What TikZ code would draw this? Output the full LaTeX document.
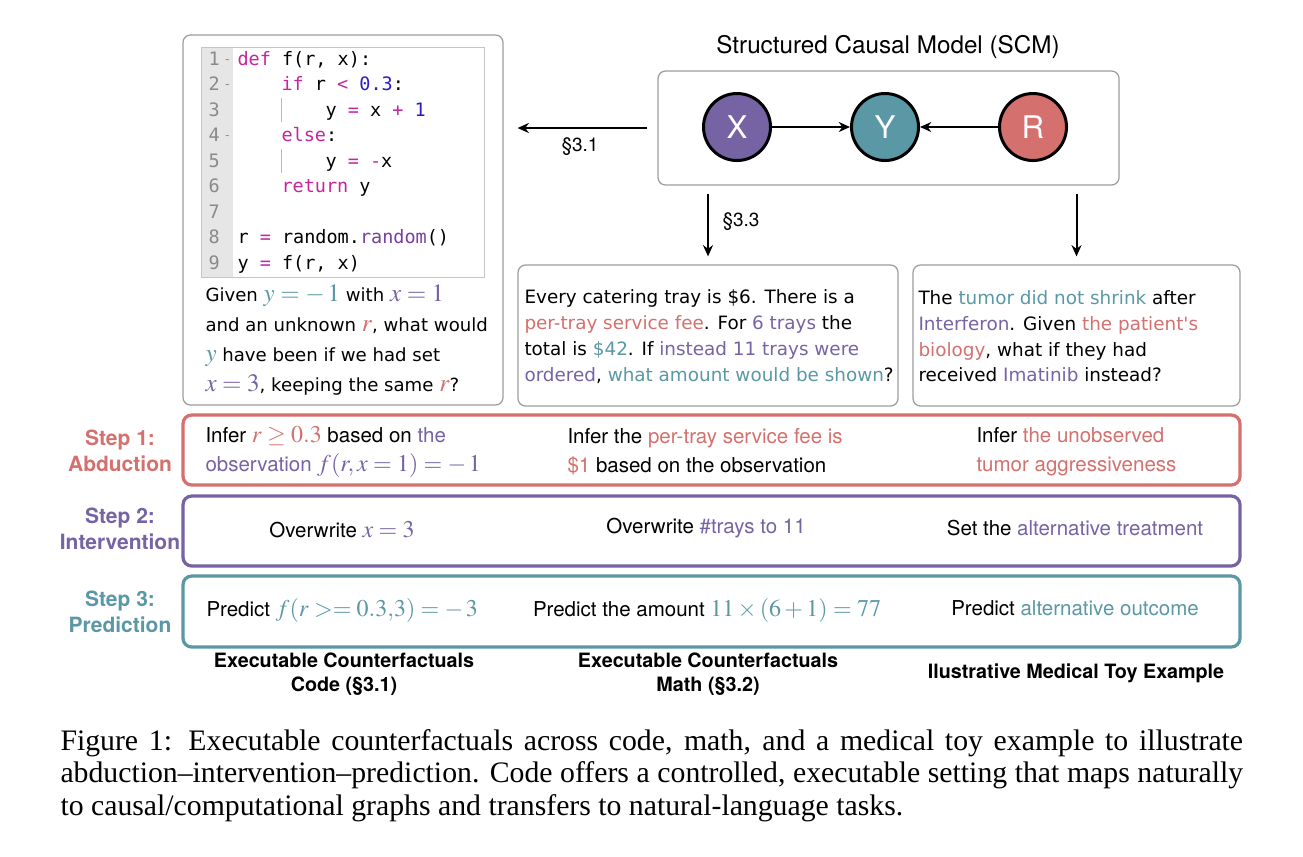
\documentclass[tikz,border=0pt]{standalone}
\usepackage{mathptmx}
\usepackage{fontspec}
\setmainfont{Liberation Serif}
\setsansfont{TeX Gyre Heros}
\setmonofont{DejaVu Sans Mono}
\newfontfamily\comicfont{DejaVu Sans}
\usepackage{xcolor}
\usepackage{tikz}
\usetikzlibrary{arrows.meta,fit}
\definecolor{redc}{HTML}{D4706D}
\definecolor{purc}{HTML}{7663A3}
\definecolor{tealc}{HTML}{5A98A5}
\definecolor{boxgray}{HTML}{9E9E9E}
\definecolor{gutter}{HTML}{E6E6E6}
\definecolor{lnum}{HTML}{8A8A8A}
\definecolor{kwc}{HTML}{C4269F}
\definecolor{numc}{HTML}{2B1BC9}
\definecolor{fnc}{HTML}{7A3FA2}
\newcommand{\ckw}[1]{\textcolor{kwc}{#1}}
\newcommand{\cnum}[1]{\textcolor{numc}{#1}}
\newcommand{\cfn}[1]{\textcolor{fnc}{#1}}
\newcommand{\txtred}[1]{\textcolor{redc}{#1}}
\newcommand{\txtpur}[1]{\textcolor{purc}{#1}}
\newcommand{\txtteal}[1]{\textcolor{tealc}{#1}}
\newcommand{\rowmath}[1]{{\fontsize{9.6}{11}\selectfont$#1$}}
\newcommand{\qmath}[1]{{\fontsize{10}{11}\selectfont$#1$}}
\tikzset{
  card/.style={draw=boxgray, line width=0.5pt, rounded corners=3pt, inner sep=0pt},
  stepbox/.style={line width=1.3pt, rounded corners=3.5pt, inner sep=0pt},
  var/.style={circle, draw=black, line width=1.2pt, minimum size=26.8pt, inner sep=0pt, text=white, font=\sffamily\fontsize{12.5}{12.5}\selectfont},
  arr/.style={-{Stealth[length=4.5pt,width=4pt]}, line width=0.8pt},
  codeln/.style={anchor=base west, inner sep=0pt, font=\ttfamily\fontsize{7.4}{8}\selectfont},
  lno/.style={codeln, text=lnum},
  comic/.style={anchor=west, align=left, inner sep=0pt, font=\comicfont\fontsize{7.35}{10.3}\selectfont},
  rowtxt/.style={inner sep=0pt, align=left, font=\sffamily\fontsize{8.2}{11.6}\selectfont},
  steplab/.style={align=center, inner sep=0pt, font=\sffamily\bfseries\fontsize{8.4}{10.4}\selectfont},
  colname/.style={align=center, inner sep=0pt, font=\sffamily\bfseries\fontsize{7.9}{9.6}\selectfont},
  lbl/.style={inner sep=0pt, font=\sffamily\fontsize{7.6}{9}\selectfont},
}
\begin{document}
\begin{tikzpicture}[x=0.4pt,y=-0.4pt]
  \path[use as bounding box, fill=white] (0,0) rectangle (1303,856);
  % code panel
  \node[card, fit={(183,35)(503,405)}] (code) {};
  \fill[gutter] (201,47) rectangle (233,277);
  \node[draw=boxgray!60, line width=0.4pt, inner sep=0pt, fit={(201,47)(484,277)}] (listing) {};
  \foreach \n in {1,...,9}
    \node[lno] (ln\n) at (208,{65+25.5*(\n-1)}) {\n};
  \foreach \n in {1,2,4}
    \node[lno, font=\ttfamily\fontsize{5}{5}\selectfont] at (223,{63+25.5*(\n-1)}) {-};
  \draw[gutter!80!black, line width=0.3pt] (281,98) -- (281,122);
  \draw[gutter!80!black, line width=0.3pt] (281,149) -- (281,173);
  \node[codeln] (c1) at (237,65) {\ckw{def} f(r, x):};
  \node[codeln] (c2) at (281,90.5) {\ckw{if} r \ckw{<} \cnum{0.3}:};
  \node[codeln] (c3) at (325,116) {y \ckw{=} x \ckw{+} \cnum{1}};
  \node[codeln] (c4) at (281,141.5) {\ckw{else}:};
  \node[codeln] (c5) at (325,167) {y \ckw{=} \ckw{-}x};
  \node[codeln] (c6) at (281,192.5) {\ckw{return} y};
  \node[codeln] (c8) at (237,243.5) {r \ckw{=} random.\cfn{random}()};
  \node[codeln] (c9) at (237,269) {y \ckw{=} f(r, x)};
  \node[comic, font=\comicfont\fontsize{7.25}{12}\selectfont] (codeq) at (205,340)
    {Given \txtteal{\qmath{y=-\,1}} with \txtpur{\qmath{x=1}}\\
     and an unknown \txtred{\qmath{r}}, what would\\
     \txtteal{\qmath{y}} have been if we had set\\
     \txtpur{\qmath{x=3}}, keeping the same \txtred{\qmath{r}}?};
  % SCM
  \node[font=\sffamily\fontsize{9.7}{11}\selectfont] (scmtitle) at (888,47) {Structured Causal Model (SCM)};
  \node[card, fit={(658,71)(1119,185)}] (scm) {};
  \node[var, fill=purc] (X) at (737,127) {X};
  \node[var, fill=tealc] (Y) at (885,127) {Y};
  \node[var, fill=redc] (R) at (1033,127) {R};
  \draw[arr] (X) -- (Y);
  \draw[arr] (R) -- (Y);
  \draw[arr, shorten <=4pt, shorten >=5.6pt] (scm.west) -- (code.east |- scm.west);
  \node[lbl] (s31) at (580,147) {\S3.1};
  % question panels
  \node[card, fit={(518,265)(898,406)}] (mathq) {};
  \node[card, fit={(913,265)(1240,406)}] (medq) {};
  \draw[arr, shorten <=3.2pt, shorten >=3.2pt] (scm.south -| mathq.north) -- (mathq.north);
  \draw[arr, shorten <=3.2pt, shorten >=3.2pt] (scm.south -| medq.north) -- (medq.north);
  \node[lbl, anchor=west] (s33) at (722,222) {\S3.3};
  \node[comic] (mathtxt) at (524,336.5)
    {Every catering tray is \$6. There is a\\
     \txtred{per-tray service fee}. For \txtpur{6 trays} the\\
     total is \txtteal{\$42}. If \txtpur{instead 11 trays were}\\
     \txtpur{ordered}, \txtteal{what amount would be shown}?};
  \node[comic] (medtxt) at (918,336.5)
    {The \txtteal{tumor did not shrink} after\\
     \txtpur{Interferon}. Given \txtred{the patient's}\\
     \txtred{biology}, what if they had\\
     received \txtpur{Imatinib} instead?};
  % steps
  \node[stepbox, draw=redc, fit={(183,415)(1240,485)}] (step1) {};
  \node[stepbox, draw=purc, fit={(183,496)(1240,566)}] (step2) {};
  \node[stepbox, draw=tealc, fit={(183,576)(1240,647)}] (step3) {};
  \node[steplab, text=redc] (lab1) at (120,451) {Step 1:\\Abduction};
  \node[steplab, text=purc] (lab2) at (120,529) {Step 2:\\Intervention};
  \node[steplab, text=tealc] (lab3) at (120,612) {Step 3:\\Prediction};
  \node[rowtxt, anchor=west] (a1) at (205,451.5)
    {Infer \txtred{\rowmath{r\geq0.3}} based on \txtpur{the}\\\txtpur{observation \rowmath{f(r,x=1)=-\,1}}};
  \node[rowtxt, anchor=west] (a2) at (567,451.5)
    {Infer the \txtred{per-tray service fee is}\\\txtred{\$1} based on the observation};
  \node[rowtxt, anchor=west] (a3) at (976,451.5)
    {Infer \txtred{the unobserved}\\\txtred{tumor aggressiveness}};
  \node[rowtxt] (b1) at (342,530) {Overwrite \txtpur{\rowmath{x=3}}};
  \node[rowtxt] (b2) at (706,528) {Overwrite \txtpur{\#trays to 11}};
  \node[rowtxt] (b3) at (1075,528) {Set the \txtpur{alternative treatment}};
  \node[rowtxt, anchor=west] (p1) at (206,610) {Predict \txtteal{\rowmath{f(r>=0.3{,}3)=-\,3}}};
  \node[rowtxt] (p2) at (707,610) {Predict the amount \txtteal{\rowmath{11\times(6+1)=77}}};
  \node[rowtxt] (p3) at (1075,608) {Predict \txtteal{alternative outcome}};
  \node[colname] (n1) at (344,674) {Executable Counterfactuals\\Code (\S3.1)};
  \node[colname] (n2) at (708,674) {Executable Counterfactuals\\Math (\S3.2)};
  \node[colname] (n3) at (1076,673) {Ilustrative Medical Toy Example};
  % caption
  \node[anchor=north west, text width=473pt, align=justify, inner sep=0pt,
        font=\fontsize{11.9}{13}\selectfont] (caption) at (60,729)
    {Figure 1: Executable counterfactuals across code, math, and a medical toy example to illustrate\linebreak
     abduction--intervention--prediction. Code offers a controlled, executable setting that maps naturally\linebreak
     to causal/computational graphs and transfers to natural-language tasks.};
\end{tikzpicture}
\end{document}
